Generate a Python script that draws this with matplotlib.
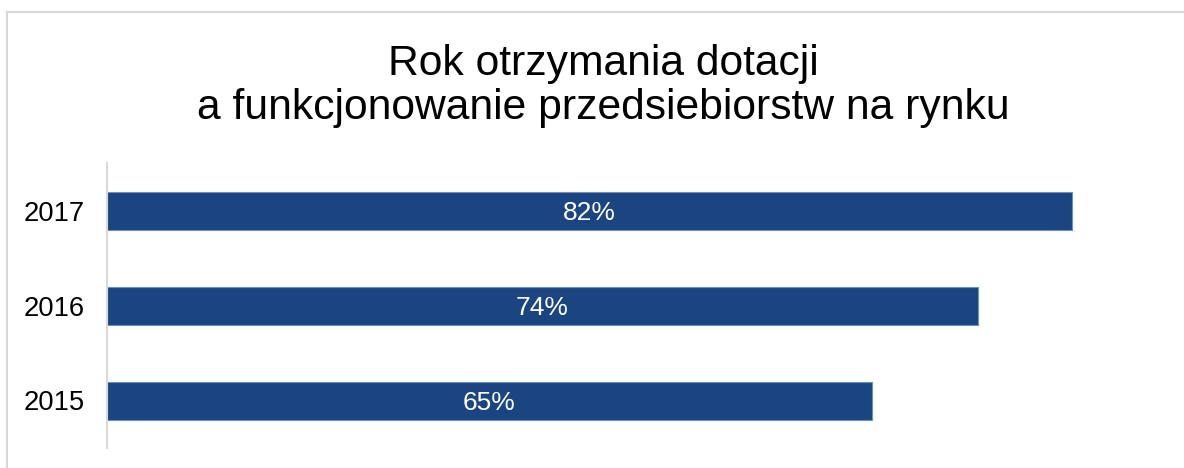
import matplotlib.pyplot as plt
from matplotlib.lines import Line2D

plt.rcParams['font.family'] = ['Liberation Sans', 'DejaVu Sans']

years = ['2015', '2016', '2017']
shares = [65, 74, 82]
title = "Rok otrzymania dotacji\na funkcjonowanie przedsiebiorstw na rynku"
bar_color = '#1b4580'

W, H = 1184, 468
fig = plt.figure(figsize=(W / 100, H / 100), dpi=100)

# outer frame (only top and left edges visible)
fig.add_artist(Line2D([7 / W, 7 / W], [0, 1 - 12 / H], color='#d9d9d9', lw=1.5))
fig.add_artist(Line2D([7 / W, 1], [1 - 12 / H, 1 - 12 / H], color='#d9d9d9', lw=1.5))

ax = fig.add_axes([107 / W, 1 - 448 / H, (1166 - 107) / W, (448 - 163) / H])
pos = range(len(years))
bars = ax.barh(pos, shares, height=0.4, color=bar_color, edgecolor='#6f8fbf', linewidth=0.8)

for b, v in zip(bars, shares):
    ax.text(b.get_width() / 2, b.get_y() + b.get_height() / 2, f"{v}%",
            ha='center', va='center_baseline', color='white', fontsize=19)

ax.set_xlim(0, 90)
ax.set_ylim(-0.5, len(years) - 0.5)
ax.set_yticks(list(pos))
ax.set_yticklabels(years, fontsize=19.7)
ax.set_xticks([])
ax.tick_params(axis='y', length=0, pad=16)
for s in ['top', 'right', 'bottom']:
    ax.spines[s].set_visible(False)
ax.spines['left'].set_color('#d9d9d9')
ax.spines['left'].set_linewidth(1.5)

fig.text(603 / W, 1 - 86 / H, title, ha='center', va='center', fontsize=30.7, linespacing=1.1)

fig.savefig('out.png', dpi=100)
